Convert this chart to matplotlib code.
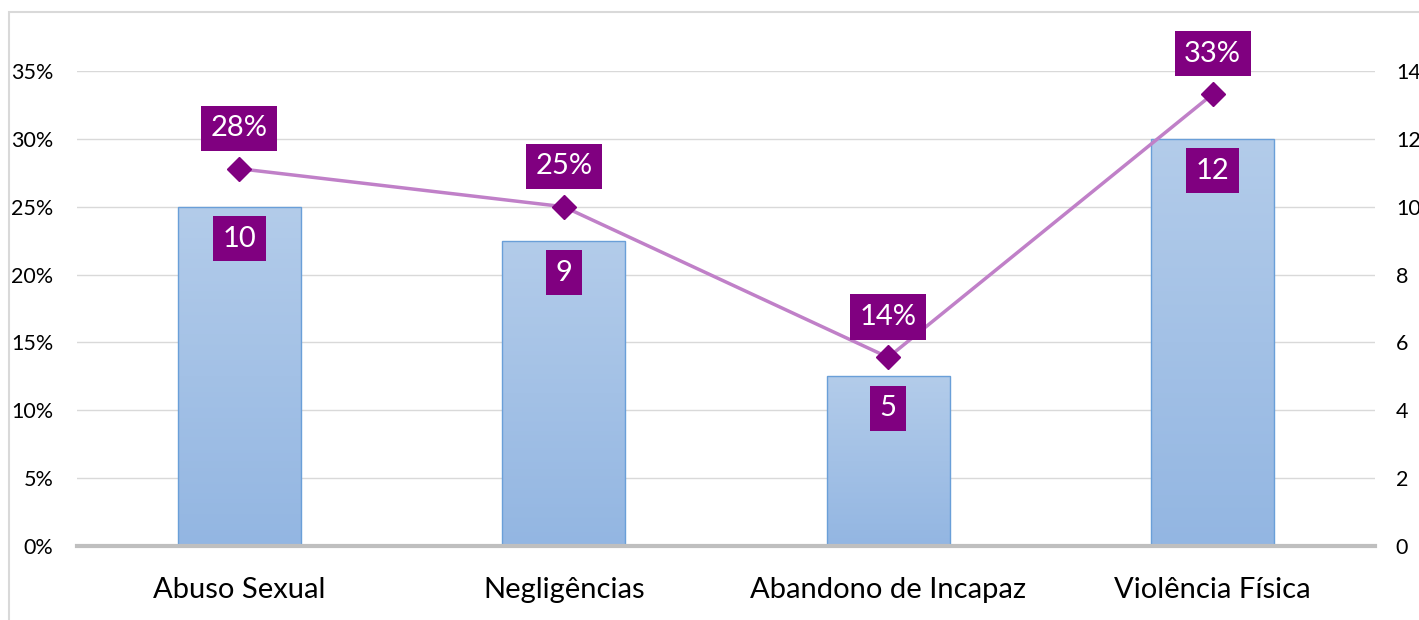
import matplotlib
matplotlib.use("Agg")
import matplotlib.pyplot as plt
import numpy as np
from matplotlib.patches import Rectangle
from matplotlib.colors import LinearSegmentedColormap

plt.rcParams['font.family'] = ['Lato', 'DejaVu Sans']

# dados
categorias = ["Abuso Sexual", "Negligências", "Abandono de Incapaz", "Violência Física"]
casos = [10, 9, 5, 12]
percentuais = [0.278, 0.25, 0.139, 0.333]
rotulos_pct = ["28%", "25%", "14%", "33%"]
ticks_pct = [0, 0.05, 0.10, 0.15, 0.20, 0.25, 0.30, 0.35]
ticks_casos = [0, 2, 4, 6, 8, 10, 12, 14]

roxo = "#800080"

fig = plt.figure(figsize=(14.19, 6.2), dpi=100)
# moldura do grafico
fig.patches.append(Rectangle((9 / 1419, -0.1), 1.2, 1 - 12 / 620 + 0.1,
                             transform=fig.transFigure, fill=False,
                             edgecolor="#D9D9D9", linewidth=1.5))

ax = fig.add_axes([77 / 1419, 74 / 620, 1298 / 1419, 475 / 620])
ax2 = ax.twinx()

x = np.arange(len(categorias))
barras = ax.bar(x, casos, width=0.38, color="none", edgecolor="#6A9FD8",
                linewidth=1.0, zorder=3)

cmap = LinearSegmentedColormap.from_list("azul", ["#93B6E2", "#B3CCEA"])
grad = np.linspace(0, 1, 256).reshape(-1, 1)
for b in barras:
    im = ax.imshow(grad, cmap=cmap, origin="lower", aspect="auto",
                   extent=[b.get_x(), b.get_x() + b.get_width(), 0, b.get_height()],
                   zorder=2)
    im.set_clip_path(b)

ax.set_xlim(-0.5, 3.5)
ax.set_ylim(0, 14)
ax.set_yticks(ticks_casos)
ax.yaxis.tick_right()
ax.grid(axis="y", color="#D9D9D9", linewidth=1.0, zorder=0)
ax.set_axisbelow(True)
ax.set_xticks(x)
ax.set_xticklabels(categorias, fontsize=21)
ax.tick_params(axis="x", length=0, pad=22)
ax.tick_params(axis="y", length=0, labelsize=15.5, pad=15)
for s in ["top", "left", "right"]:
    ax.spines[s].set_visible(False)
ax.spines["bottom"].set_color("#BFBFBF")
ax.spines["bottom"].set_linewidth(3)
ax.spines["bottom"].set_zorder(4)

for xi, v in zip(x, casos):
    ax.annotate(str(v), (xi, v), xytext=(0, -23), textcoords="offset points",
                ha="center", va="center", color="white", fontsize=21,
                bbox=dict(boxstyle="square,pad=0.33", fc=roxo, ec="none"),
                zorder=6)

ax2.plot(x, percentuais, color="#C080C8", linewidth=2.5, marker="D",
         markersize=12, markerfacecolor=roxo, markeredgecolor=roxo, zorder=5)
ax2.set_ylim(0, 0.35)
ax2.set_yticks(ticks_pct)
ax2.set_yticklabels([f"{int(round(t * 100))}%" for t in ticks_pct])
ax2.yaxis.tick_left()
ax2.tick_params(axis="y", length=0, labelsize=15.5, pad=17)
for s in ax2.spines.values():
    s.set_visible(False)

for xi, p, r in zip(x, percentuais, rotulos_pct):
    ax2.annotate(r, (xi, p), xytext=(0, 29), textcoords="offset points",
                 ha="center", va="center", color="white", fontsize=21,
                 bbox=dict(boxstyle="square,pad=0.33", fc=roxo, ec="none"),
                 zorder=6, annotation_clip=False)

fig.savefig("out.png", dpi=100)
